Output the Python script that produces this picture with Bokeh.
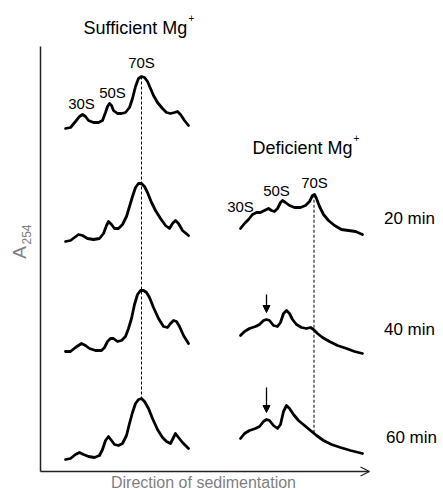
import numpy as np
from bokeh.plotting import figure
from bokeh.models import Range1d, Arrow, OpenHead, NormalHead, ColumnDataSource
from bokeh.core.properties import value
from bokeh.embed import file_html
from bokeh.resources import INLINE

# ---------------- data (sedimentation position, A254 above baseline) -------------
suff_20_sed = [0, 5, 10, 14, 17, 20, 23, 28, 33, 37, 40, 42, 44, 46, 48, 52, 56, 60, 64, 67, 70, 73, 76, 79,
               82, 85, 88, 92, 97, 101, 105, 109, 112, 115, 119, 123]
suff_20_a254 = [0, 1, 7, 12, 14, 12, 8, 6, 6, 8, 16, 22, 25, 23, 18, 15, 15, 16, 21, 30, 42, 50, 52, 51,
                47, 40, 33, 26, 20, 16, 15, 16, 17, 14, 8, 3]

suff_40_sed = [0, 5, 9, 13, 17, 22, 28, 34, 38, 41, 43, 46, 49, 53, 57, 61, 64, 67, 70, 73, 76, 79, 82, 86,
               90, 95, 100, 104, 107, 110, 113, 117, 123]
suff_40_a254 = [0, 1, 4, 7, 6, 3, 2, 3, 8, 16, 20, 17, 13, 13, 17, 25, 35, 45, 54, 58, 58, 55, 49, 39,
                31, 23, 16, 13, 18, 21, 18, 11, 6]

suff_60_sed = [0, 5, 10, 16, 20, 24, 30, 36, 39, 42, 45, 48, 52, 56, 60, 63, 66, 69, 72, 75, 78, 81, 84, 88,
               93, 98, 102, 105, 108, 111, 114, 118, 123]
suff_60_a254 = [0, 0, 4, 8, 6, 3, 1, 1, 4, 10, 13, 13, 10, 11, 15, 23, 33, 47, 57, 61, 61, 59, 54, 44,
                33, 25, 24, 28, 31, 30, 25, 16, 8]

suff_80_sed = [0, 5, 10, 14, 18, 23, 29, 34, 37, 40, 43, 46, 49, 53, 57, 61, 64, 67, 70, 73, 76, 79, 83, 87,
               92, 97, 101, 105, 108, 110, 113, 117, 123]
suff_80_a254 = [0, 1, 5, 7, 5, 3, 2, 4, 10, 19, 23, 19, 15, 14, 16, 24, 36, 47, 56, 60, 61, 58, 51, 41,
                30, 22, 18, 16, 22, 26, 22, 17, 11]

def_20_sed = [0, 4, 8, 12, 16, 20, 24, 28, 31, 34, 37, 40, 42, 45, 49, 54, 60, 65, 69, 72, 74, 76, 79, 83,
              88, 94, 101, 108, 115, 122]
def_20_a254 = [0, 5, 9, 14, 16, 16, 18, 20, 18, 17, 20, 26, 28, 26, 23, 21, 21, 23, 27, 33, 34, 30, 22, 14,
               8, 3, -1, -2, -3, -6]

def_40_sed = [0, 4, 9, 15, 19, 23, 26, 29, 33, 37, 40, 43, 46, 49, 52, 56, 61, 66, 70, 73, 77, 82, 89, 97,
              106, 114, 122]
def_40_a254 = [0, 4, 7, 9, 11, 15, 16, 15, 10, 9, 13, 22, 25, 22, 16, 11, 8, 7, 8, 6, 2, -2, -6, -10,
               -13, -16, -18]

def_60_sed = [0, 4, 9, 15, 19, 23, 26, 29, 33, 37, 40, 43, 46, 49, 53, 58, 64, 70, 76, 83, 91, 100, 110, 122]
def_60_a254 = [0, 5, 8, 10, 12, 17, 19, 18, 13, 10, 14, 27, 33, 30, 24, 18, 13, 8, 3, -2, -6, -9, -12, -15]

peak_labels = ["30S", "50S", "70S"]
suff_label_sed = [16, 47, 76]
def_label_sed = [0, 36, 74]
suff_70s_sed = 76
def_70s_sed = 73.5
def_arrow_sed = 26
time_labels = ["20 min", "40 min", "60 min"]

# ---------------- layout ----------------
W, H = 443, 490
p = figure(width=W, height=H, x_range=Range1d(0, W), y_range=Range1d(0, H),
           output_backend="svg", toolbar_location=None, min_border=0,
           x_axis_type=None, y_axis_type=None)
p.outline_line_color = None
p.background_fill_color = "white"
p.border_fill_color = "white"

FONT = value("Liberation Sans")
left_x0, right_x0 = 65, 240
left_base = [362, 249, 139, 31]
right_base = [262, 155, 52]
LW = 2.8

suff = [(suff_20_sed, suff_20_a254), (suff_40_sed, suff_40_a254),
        (suff_60_sed, suff_60_a254), (suff_80_sed, suff_80_a254)]
defi = [(def_20_sed, def_20_a254), (def_40_sed, def_40_a254), (def_60_sed, def_60_a254)]

# dashed 70S reference lines
top_l = left_base[0] + np.interp(suff_70s_sed, suff[0][0], suff[0][1])
bot_l = left_base[-1] + np.interp(suff_70s_sed, suff[-1][0], suff[-1][1])
p.line([left_x0 + suff_70s_sed] * 2, [top_l, bot_l], line_color="black", line_width=1, line_dash="3 2")
top_r = right_base[0] + np.interp(def_70s_sed, defi[0][0], defi[0][1])
bot_r = right_base[-1] + np.interp(def_70s_sed, defi[-1][0], defi[-1][1])
p.line([right_x0 + def_70s_sed] * 2, [top_r, bot_r], line_color="black", line_width=1, line_dash="3 2")

for (sed, a), b in zip(suff, left_base):
    p.line([left_x0 + s for s in sed], [b + v for v in a], line_color="black", line_width=LW,
           line_join="round", line_cap="round")
for (sed, a), b in zip(defi, right_base):
    p.line([right_x0 + s for s in sed], [b + v for v in a], line_color="black", line_width=LW,
           line_join="round", line_cap="round")

# axes (L-shape with arrow)
p.line([40, 40], [19, 444], line_color="#222222", line_width=1.5)
p.add_layout(Arrow(end=OpenHead(size=9, line_width=1.3, line_color="#222222"),
                   x_start=40, y_start=19, x_end=369, y_end=19,
                   line_color="#222222", line_width=1.5))

# arrows on deficient 40/60 min
for i, length in [(1, 18), (2, 25)]:
    peak = right_base[i] + np.interp(def_arrow_sed, defi[i][0], defi[i][1])
    p.add_layout(Arrow(end=NormalHead(size=7, fill_color="black", line_color="black"),
                       x_start=right_x0 + def_arrow_sed, y_start=peak + 7 + length,
                       x_end=right_x0 + def_arrow_sed, y_end=peak + 7,
                       line_color="black", line_width=1.3))

# peak labels
lab_src = ColumnDataSource(dict(
    x=[left_x0 + s for s in suff_label_sed] + [right_x0 + s for s in def_label_sed],
    y=[387, 398, 428, 284, 300, 308],
    t=peak_labels + peak_labels))
p.text("x", "y", text="t", source=lab_src, text_font=FONT, text_font_size=value("15px"),
       text_align="center", text_baseline="middle", text_color="black")

# time labels
p.text(x=[409, 409, 411], y=[490 - 218, 490 - 329, 490 - 437], text=time_labels,
       text_font=FONT, text_font_size=value("17px"), text_align="center",
       text_baseline="middle", text_color="black")

# titles
p.text(x=[83, 252], y=[463, 343], text=["Sufficient Mg", "Deficient Mg"], text_font=FONT,
       text_font_size=value("18px"), text_align="left", text_baseline="alphabetic", text_color="black")
p.text(x=[188, 353], y=[473, 353], text=["+", "+"], text_font=FONT,
       text_font_size=value("10px"), text_align="left", text_baseline="middle", text_color="black")

# axis labels
p.text(x=[203], y=[490 - 482], text=["Direction of sedimentation"], text_font=FONT,
       text_font_size=value("16px"), text_align="center", text_baseline="middle", text_color="#7f7f7f")
p.text(x=[19], y=[490 - 252], text=["A"], angle=np.pi / 2, text_font=FONT,
       text_font_size=value("19px"), text_align="center", text_baseline="middle", text_color="#7f7f7f")
p.text(x=[26], y=[490 - 234], text=["254"], angle=np.pi / 2, text_font=FONT,
       text_font_size=value("12px"), text_align="center", text_baseline="middle", text_color="#7f7f7f")

open("out.html", "w").write(file_html(p, INLINE))
